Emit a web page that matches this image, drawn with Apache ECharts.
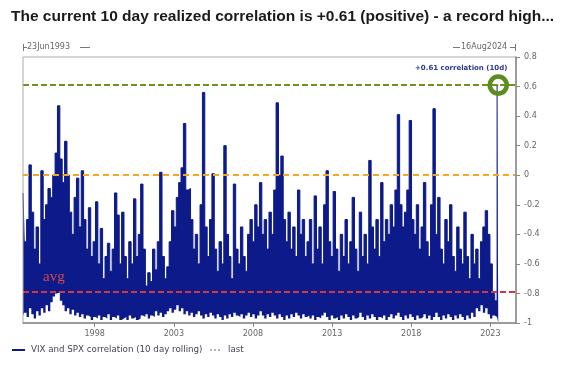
<!DOCTYPE html>
<html><head><meta charset="utf-8">
<script src="https://cdn.jsdelivr.net/npm/echarts@6/dist/echarts.min.js"></script>
<style>html,body{margin:0;padding:0;background:#fff}#c{width:580px;height:366px}</style>
</head><body><div id="c"></div>
<script>
// Time span of the plotted series (fractional years)
const startYear = 1993.47;   // 23 Jun 1993
const dataEndYear = 2023.5;
const axisEndYear = 2024.62; // 16 Aug 2024
const yearTicks = [1998, 2003, 2008, 2013, 2018, 2023];

// Upper extremes of the 10d rolling correlation per time bucket
const upper = [
 -0.12,-0.45,-0.3,0.07,-0.25,-0.5,-0.35,-0.6,0.03,-0.3,
 -0.2,-0.09,-0.15,0.0,0.15,0.47,0.11,-0.05,0.23,0.0,
 -0.25,-0.4,-0.15,-0.02,-0.35,0.03,-0.3,-0.5,-0.22,-0.55,
 -0.45,-0.18,-0.6,-0.36,-0.7,-0.55,-0.46,-0.65,-0.5,-0.12,
 -0.27,-0.6,-0.25,-0.55,-0.7,-0.45,-0.6,-0.16,-0.55,-0.4,
 -0.06,-0.5,-0.75,-0.66,-0.72,-0.5,-0.64,-0.45,0.02,-0.55,
 -0.7,-0.62,-0.45,-0.24,-0.35,-0.15,-0.05,0.05,0.35,-0.1,
 -0.09,-0.3,-0.5,-0.4,-0.6,-0.2,0.56,-0.35,-0.55,-0.3,
 0.01,-0.5,-0.65,-0.45,-0.6,0.2,-0.4,-0.55,-0.7,-0.06,
 -0.5,-0.6,-0.35,-0.55,-0.65,-0.4,-0.3,-0.45,-0.2,-0.35,
 -0.05,-0.4,-0.3,-0.5,-0.25,-0.4,-0.1,0.49,0.0,0.13,
 -0.3,-0.45,-0.25,-0.5,-0.35,-0.55,-0.1,-0.4,-0.3,-0.55,
 -0.45,-0.3,-0.6,-0.14,-0.5,-0.35,-0.6,-0.2,0.03,-0.45,
 -0.55,-0.11,-0.5,-0.65,-0.4,-0.55,-0.3,-0.6,-0.45,-0.15,
 -0.5,-0.65,-0.25,-0.55,-0.4,-0.6,0.1,-0.35,-0.5,-0.3,
 -0.55,-0.05,-0.45,-0.3,-0.4,-0.2,-0.35,-0.1,0.41,-0.2,
 -0.35,-0.25,-0.1,0.37,-0.3,-0.4,-0.2,-0.5,-0.35,-0.05,
 -0.45,-0.55,-0.2,0.45,-0.4,-0.15,-0.5,-0.6,-0.3,-0.45,
 -0.2,-0.55,-0.65,-0.35,-0.5,-0.6,-0.25,-0.55,-0.7,-0.4,
 -0.6,-0.5,-0.7,-0.45,-0.35,-0.24,-0.4,-0.6,-0.8,-0.85
];
// Lower extremes per time bucket
const lower = [
 -0.95,-0.93,-0.96,-0.9,-0.94,-0.97,-0.92,-0.95,-0.9,-0.93,
 -0.88,-0.92,-0.86,-0.82,-0.8,-0.79,-0.85,-0.88,-0.92,-0.9,
 -0.94,-0.91,-0.95,-0.93,-0.96,-0.94,-0.97,-0.95,-0.96,-0.98,
 -0.96,-0.97,-0.95,-0.98,-0.96,-0.97,-0.94,-0.98,-0.96,-0.97,
 -0.95,-0.98,-0.97,-0.96,-0.98,-0.95,-0.97,-0.96,-0.98,-0.97,
 -0.95,-0.96,-0.94,-0.97,-0.95,-0.96,-0.92,-0.95,-0.93,-0.96,
 -0.94,-0.92,-0.9,-0.93,-0.91,-0.88,-0.92,-0.9,-0.94,-0.92,
 -0.95,-0.93,-0.96,-0.94,-0.92,-0.95,-0.97,-0.94,-0.96,-0.93,
 -0.95,-0.97,-0.94,-0.96,-0.98,-0.95,-0.97,-0.94,-0.96,-0.93,
 -0.95,-0.96,-0.94,-0.97,-0.95,-0.93,-0.96,-0.94,-0.97,-0.95,
 -0.92,-0.95,-0.97,-0.94,-0.96,-0.93,-0.95,-0.97,-0.94,-0.96,
 -0.98,-0.95,-0.97,-0.94,-0.96,-0.93,-0.95,-0.97,-0.94,-0.96,
 -0.95,-0.97,-0.95,-0.98,-0.96,-0.97,-0.95,-0.93,-0.96,-0.98,
 -0.95,-0.97,-0.96,-0.98,-0.95,-0.97,-0.94,-0.96,-0.98,-0.95,
 -0.97,-0.96,-0.93,-0.96,-0.98,-0.95,-0.97,-0.94,-0.96,-0.98,
 -0.96,-0.97,-0.95,-0.98,-0.96,-0.94,-0.97,-0.95,-0.93,-0.96,
 -0.98,-0.95,-0.97,-0.94,-0.96,-0.98,-0.95,-0.97,-0.96,-0.94,
 -0.97,-0.95,-0.98,-0.96,-0.93,-0.96,-0.98,-0.95,-0.97,-0.94,
 -0.96,-0.98,-0.95,-0.97,-0.94,-0.96,-0.98,-0.95,-0.97,-0.93,
 -0.96,-0.9,-0.92,-0.88,-0.93,-0.9,-0.94,-0.97,-0.95,-0.96
];
const lastValue = 0.61;
const lastLowValue = -0.95;
const avgValue = -0.79;
const zeroValue = 0;

const n = Math.min(upper.length, lower.length);
const step = (dataEndYear - startYear) / n;
const upperData = [], lowerData = [];
for (let i = 0; i < n; i++) {
  const t = startYear + i * step;
  upperData.push([t, upper[i]]);
  lowerData.push([t, lower[i]]);
}
upperData.push([dataEndYear, lastValue]);
lowerData.push([dataEndYear, lastLowValue]);

const navy = '#0c1a8a';
const chart = echarts.init(document.getElementById('c'), null, {renderer: 'canvas'});
const axisFont = {fontFamily: 'DejaVu Sans', fontSize: 8, color: '#666'};
chart.setOption({
  animation: false,
  backgroundColor: '#fff',
  title: {
    left: 6, top: 4,
    text: '{n|The }{b|current 10 day realized correlation is +0.61 (positive) - a record high...}',
    textStyle: {
      rich: {
        n: {fontFamily: 'Liberation Sans', fontSize: 15.5, color: '#1a1a1a'},
        b: {fontFamily: 'Liberation Sans', fontSize: 15.5, fontWeight: 'bold', color: '#1a1a1a'}
      }
    }
  },
  grid: {left: 23, right: 64, top: 57, bottom: 43, show: true, borderColor: '#aaa', borderWidth: 1, z: 10},
  xAxis: {
    type: 'value', min: startYear, max: axisEndYear, z: 10,
    axisLine: {show: true, onZero: false, lineStyle: {color: '#888', width: 1.5}},
    axisTick: {show: true, customValues: yearTicks, length: 4, lineStyle: {color: '#888'}},
    axisLabel: Object.assign({customValues: yearTicks, margin: 7, formatter: v => String(Math.round(v))}, axisFont),
    splitLine: {show: false}
  },
  yAxis: {
    type: 'value', position: 'right', min: -1, max: 0.8, interval: 0.2, z: 10,
    axisLine: {show: true, onZero: false, lineStyle: {color: '#888', width: 1.5}},
    axisTick: {show: true, length: 4, lineStyle: {color: '#888'}},
    axisLabel: Object.assign({margin: 8, formatter: v => String(parseFloat(v.toFixed(1)))}, axisFont),
    splitLine: {show: false}
  },
  series: [{
    name: 'upper', type: 'line', data: upperData, showSymbol: false, sampling: null, step: 'middle',
    lineStyle: {color: navy, width: 1},
    areaStyle: {color: navy, opacity: 1, origin: 'start'},
    z: 2
  }, {
    name: 'lower', type: 'line', data: lowerData, showSymbol: false, sampling: null, step: 'middle',
    lineStyle: {width: 0, color: '#fff'},
    areaStyle: {color: '#fff', opacity: 1, origin: 'start'},
    z: 3
  }, {
    name: 'levels', type: 'line', data: [], z: 5,
    markLine: {
      silent: true, symbol: 'none', label: {show: false},
      data: [
        {yAxis: lastValue, lineStyle: {color: '#6f9222', width: 2, type: [6, 3]}},
        {yAxis: zeroValue, lineStyle: {color: '#f5a623', width: 2, type: [6, 4]}},
        {yAxis: avgValue, lineStyle: {color: '#d8363f', width: 2, type: [6, 3]}}
      ]
    },
    markPoint: {
      silent: true,
      data: [{coord: [dataEndYear, lastValue], symbol: 'circle', symbolSize: 17,
        itemStyle: {color: 'rgba(0,0,0,0)', borderColor: '#5b8c1e', borderWidth: 4.5},
        label: {show: false}}]
    }
  }],
  graphic: [
    {type: 'line', shape: {x1: 23.5, y1: 44, x2: 23.5, y2: 51}, style: {stroke: '#777', lineWidth: 1}},
    {type: 'line', shape: {x1: 23.5, y1: 47.5, x2: 27, y2: 47.5}, style: {stroke: '#777', lineWidth: 1}},
    {type: 'text', left: 27, top: 43, style: {text: '23Jun1993', font: '8px DejaVu Sans', fill: '#666'}},
    {type: 'line', shape: {x1: 80, y1: 47.5, x2: 90, y2: 47.5}, style: {stroke: '#777', lineWidth: 1}},
    {type: 'line', shape: {x1: 453, y1: 47.5, x2: 460, y2: 47.5}, style: {stroke: '#777', lineWidth: 1}},
    {type: 'text', left: 461, top: 43, style: {text: '16Aug2024', font: '8px DejaVu Sans', fill: '#666'}},
    {type: 'line', shape: {x1: 510, y1: 47.5, x2: 515.5, y2: 47.5}, style: {stroke: '#777', lineWidth: 1}},
    {type: 'line', shape: {x1: 515.5, y1: 44, x2: 515.5, y2: 51}, style: {stroke: '#777', lineWidth: 1}},
    {type: 'text', left: 415, top: 65, z: 20, style: {text: '+0.61 correlation (10d)', font: 'bold 7px DejaVu Sans', fill: '#2b3a8f'}},
    {type: 'text', left: 43, top: 270, z: 20, style: {text: 'avg', font: '15px Liberation Serif', fill: '#d44a4a'}},
    {type: 'line', shape: {x1: 12, y1: 350, x2: 25, y2: 350}, style: {stroke: navy, lineWidth: 2}},
    {type: 'text', left: 31, top: 345, style: {text: 'VIX and SPX correlation (10 day rolling)', font: '8.7px DejaVu Sans', fill: '#445'}},
    {type: 'line', shape: {x1: 210, y1: 350, x2: 222, y2: 350}, style: {stroke: '#667', lineWidth: 1, lineDash: [2, 2]}},
    {type: 'text', left: 228, top: 345, style: {text: 'last', font: '8.7px DejaVu Sans', fill: '#445'}}
  ]
});
</script></body></html>
